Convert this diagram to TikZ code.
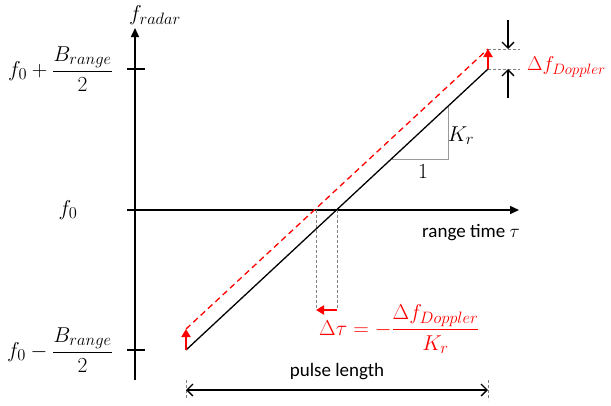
\RequirePackage{fix-cm}
\documentclass[tikz,border=0pt]{standalone}
\usepackage{amsmath}
\usepackage{fontspec}
\setmainfont{Carlito}
\DeclareMathSizes{21.5}{21.5}{16.5}{12.5}
\DeclareMathSizes{20}{20}{15}{11.5}
\usetikzlibrary{arrows.meta}
\begin{document}
\begin{tikzpicture}[x=1pt,y=-1pt,
  txt/.style={font=\fontsize{19}{22}\selectfont, inner sep=1pt},
  mth/.style={font=\fontsize{21.5}{25}\selectfont, inner sep=1pt},
  mths/.style={font=\fontsize{20}{23}\selectfont, inner sep=0pt},
  axis/.style={line width=1.5pt, -{Triangle[length=9pt,width=8pt]}},
  tick/.style={line width=1.2pt},
  sig/.style={line width=1.3pt},
  redsig/.style={line width=1.3pt, red, dashed, dash pattern=on 6pt off 4pt},
  guide/.style={gray, line width=0.7pt, dashed, dash pattern=on 3pt off 2pt},
  slope/.style={gray!80, line width=1pt},
  redarr/.style={red, line width=2.5pt, -{Triangle[length=8pt,width=9pt]}},
  dimarr/.style={line width=1.3pt, -{Straight Barb[length=6pt,width=12pt]}},
]
\useasboundingbox (0,0) rectangle (611,405);
% key points
\coordinate (yb) at (135,380);
\coordinate (yt) at (135,28);
\coordinate (xl) at (127,210);
\coordinate (xr) at (519,210);
\coordinate (A) at (186,350);
\coordinate (B) at (488,69);
\coordinate (Ar) at (186,329);
\coordinate (Br) at (488,49);
\coordinate (Cb) at (337,210);
\coordinate (Cr) at (316,210);
\coordinate (Cbd) at (337,310);
\coordinate (Crd) at (316,310);
% axes
\draw[axis] (yb) -- (yt);
\draw[axis] (xl) -- (xr);
\draw[tick] (127,69) -- (145,69);
\draw[tick] (127,350) -- (145,350);
% slope triangle
\coordinate (S1) at (392,159);
\coordinate (S2) at (448,159);
\coordinate (S3) at (448,106);
\draw[slope] (S1) -- (S2) -- (S3);
% guides
\draw[guide] (Br) -- (520,49);
\draw[guide] (B) -- (520,69);
\draw[guide] (Cb) -- (Cbd);
\draw[guide] (Cr) -- (Crd);
\draw[guide] (186,380) -- (186,400);
\draw[guide] (488,380) -- (488,400);
% signals
\draw[sig] (A) -- (B);
\draw[redsig] (Ar) -- (Br);
\draw[redarr] (A) -- (Ar);
\draw[redarr] (B) -- (Br);
\draw[redarr] (Cbd) -- (Crd);
% doppler dimension arrows
\coordinate (d1) at (508,20);
\coordinate (d2) at (508,98);
\draw[dimarr] (d1) -- (508,49);
\draw[dimarr] (d2) -- (508,69);
% pulse length
\coordinate (p1) at (186,390);
\coordinate (p2) at (488,390);
\draw[line width=1.3pt, {Straight Barb[length=6pt,width=12pt]}-{Straight Barb[length=6pt,width=12pt]}] (p1) -- (p2);
% labels
\node[mth] (lfr) at (155,15) {$f_{radar}$};
\node[mth, anchor=east] (lfp) at (114,69) {$f_0+\dfrac{B_{range}}{2}$};
\node[mth] (lf0) at (68,210) {$f_0$};
\node[mth, anchor=east] (lfm) at (114,350) {$f_0-\dfrac{B_{range}}{2}$};
\node[mth] (lkr) at (461,136) {$K_r$};
\node[mth] (l1) at (423,172) {$1$};
\node[mths, anchor=west, text=red] (ldf) at (527,67) {$\Delta f_{Doppler}$};
\node[txt] (lrt) at (471,233) {range time $\tau$};
\node[mth, anchor=west, text=red] (ldt) at (318,329) {$\Delta\tau=-\dfrac{\Delta f_{Doppler}}{K_r}$};
\node[txt] (lpl) at (337,372) {pulse length};
\end{tikzpicture}
\end{document}
